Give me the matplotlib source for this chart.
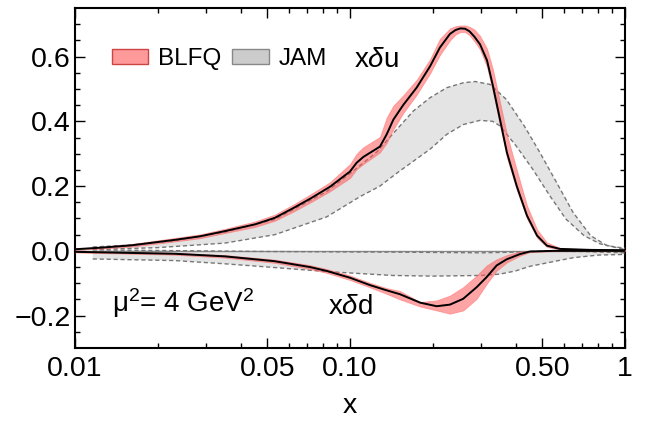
import matplotlib
matplotlib.use("Agg")
import matplotlib.pyplot as plt
from matplotlib.patches import Patch
from matplotlib.ticker import FixedLocator, NullFormatter

plt.rcParams['font.family'] = ['Liberation Sans', 'DejaVu Sans']
plt.rcParams['mathtext.fontset'] = 'custom'
plt.rcParams['mathtext.rm'] = 'Liberation Sans'
plt.rcParams['mathtext.it'] = 'Liberation Sans:italic'

# ---------------- data ----------------
# BLFQ x delta u (central + band)
u_x = [0.010, 0.0125, 0.016, 0.0231, 0.0285, 0.0351, 0.0452, 0.0533, 0.0622, 0.0723,
       0.0846, 0.100, 0.1057, 0.1118, 0.1285, 0.136, 0.1437, 0.156, 0.1747, 0.1955,
       0.2123, 0.231, 0.242, 0.252, 0.262, 0.272, 0.283, 0.297, 0.315, 0.331,
       0.351, 0.372, 0.404, 0.440, 0.479, 0.520, 0.580, 0.750, 1.0]
u_mid = [0.005, 0.010, 0.017, 0.034, 0.045, 0.061, 0.082, 0.102, 0.132, 0.163,
         0.198, 0.245, 0.272, 0.290, 0.322, 0.360, 0.405, 0.450, 0.504, 0.570,
         0.628, 0.670, 0.682, 0.687, 0.686, 0.678, 0.662, 0.638, 0.588, 0.509,
         0.406, 0.304, 0.200, 0.109, 0.047, 0.016, 0.006, 0.003, 0.002]
u_lo = [0.003, 0.007, 0.013, 0.029, 0.039, 0.055, 0.074, 0.093, 0.121, 0.151,
        0.184, 0.225, 0.252, 0.268, 0.304, 0.334, 0.375, 0.425, 0.482, 0.548,
        0.605, 0.650, 0.668, 0.676, 0.676, 0.666, 0.648, 0.622, 0.568, 0.490,
        0.388, 0.288, 0.188, 0.100, 0.040, 0.012, 0.004, 0.002, 0.001]
u_hi = [0.007, 0.013, 0.021, 0.040, 0.051, 0.068, 0.091, 0.112, 0.143, 0.176,
        0.212, 0.268, 0.300, 0.320, 0.352, 0.412, 0.448, 0.480, 0.528, 0.592,
        0.655, 0.687, 0.694, 0.696, 0.696, 0.692, 0.684, 0.664, 0.624, 0.560,
        0.460, 0.360, 0.250, 0.140, 0.066, 0.026, 0.009, 0.004, 0.003]

# BLFQ x delta d
d_x = [0.010, 0.0231, 0.0351, 0.0533, 0.0715, 0.0823, 0.100, 0.1184, 0.136, 0.152,
       0.180, 0.2066, 0.231, 0.258, 0.289, 0.314, 0.3415, 0.3715, 0.415, 0.451,
       0.550, 1.0]
d_mid = [-0.003, -0.009, -0.017, -0.032, -0.050, -0.062, -0.083, -0.106, -0.122, -0.134,
         -0.160, -0.171, -0.166, -0.148, -0.112, -0.081, -0.045, -0.026, -0.010, -0.002,
         0.0, 0.0]
d_lo = [-0.005, -0.012, -0.021, -0.037, -0.056, -0.068, -0.090, -0.113, -0.133, -0.150,
        -0.172, -0.184, -0.194, -0.184, -0.148, -0.102, -0.061, -0.036, -0.015, -0.004,
        -0.001, 0.0]
d_hi = [-0.001, -0.006, -0.013, -0.027, -0.044, -0.056, -0.076, -0.099, -0.115, -0.124,
        -0.158, -0.153, -0.138, -0.112, -0.076, -0.045, -0.026, -0.013, -0.002, 0.0,
        0.001, 0.0]

# JAM x delta u band edges
ju_up_x = [0.0116, 0.016, 0.0231, 0.0351, 0.0533, 0.0823, 0.1057, 0.125, 0.148, 0.170,
           0.1955, 0.225, 0.258, 0.285, 0.323, 0.370, 0.430, 0.490, 0.564, 0.647,
           0.750, 0.860, 1.0]
ju_up_y = [0.012, 0.018, 0.032, 0.058, 0.097, 0.183, 0.255, 0.305, 0.375, 0.432,
           0.473, 0.504, 0.519, 0.523, 0.514, 0.468, 0.386, 0.304, 0.211, 0.119,
           0.047, 0.016, 0.008]
ju_lo_x = [0.0116, 0.020, 0.0351, 0.0533, 0.0823, 0.109, 0.1285, 0.148, 0.1955, 0.225,
           0.258, 0.297, 0.330, 0.351, 0.402, 0.462, 0.533, 0.610, 0.710, 0.810, 1.0]
ju_lo_y = [0.004, 0.010, 0.024, 0.050, 0.105, 0.168, 0.200, 0.240, 0.314, 0.360,
           0.390, 0.403, 0.400, 0.386, 0.324, 0.252, 0.170, 0.098, 0.047, 0.022, 0.004]

# JAM x delta d band edges
jd_up_x = [0.0116, 0.05, 0.15, 0.30, 0.40, 0.50, 0.70, 1.0]
jd_up_y = [0.003, -0.002, -0.004, -0.006, -0.004, -0.001, -0.002, -0.006]
jd_lo_x = [0.0116, 0.0231, 0.0351, 0.047, 0.0823, 0.143, 0.20, 0.30, 0.35, 0.40,
           0.45, 0.55, 0.65, 0.80, 1.0]
jd_lo_y = [-0.025, -0.030, -0.040, -0.048, -0.064, -0.076, -0.078, -0.076, -0.072, -0.062,
           -0.048, -0.033, -0.021, -0.013, -0.011]

x_ticks = [0.01, 0.05, 0.10, 0.50, 1.0]
x_tick_labels = ['0.01', '0.05', '0.10', '0.50', '1']
y_ticks = [-0.2, 0.0, 0.2, 0.4, 0.6]
y_tick_labels = ['\u22120.2', '0.0', '0.2', '0.4', '0.6']

# ---------------- plot ----------------
fig = plt.figure(figsize=(6.47, 4.22), dpi=100)
ax = fig.add_axes([75/647, 1-348/422, 550/647, 340/422])
ax.set_xscale('log')
ax.set_xlim(0.01, 1.0)
ax.set_ylim(-0.3, 0.75)

jam_fill = '#e4e4e4'
jam_edge = '#777777'
pink = '#ff5a5a'

# JAM bands
ax.fill(ju_up_x + ju_lo_x[::-1], ju_up_y + ju_lo_y[::-1], color=jam_fill, lw=0, zorder=1)
ax.fill(jd_up_x + jd_lo_x[::-1], jd_up_y + jd_lo_y[::-1], color=jam_fill, lw=0, zorder=1)

# zero line
ax.axhline(0, color='#8a8a8a', lw=1.0, zorder=2)

for xs, ys in [(ju_up_x, ju_up_y), (ju_lo_x, ju_lo_y), (jd_up_x, jd_up_y), (jd_lo_x, jd_lo_y)]:
    ax.plot(xs, ys, color=jam_edge, lw=1.0, ls=(0, (3, 2)), zorder=3)

# BLFQ bands
ax.fill_between(u_x, u_lo, u_hi, facecolor=pink, alpha=0.55, edgecolor='#ff6a6a', lw=0.6, zorder=4)
ax.fill_between(d_x, d_lo, d_hi, facecolor=pink, alpha=0.55, edgecolor='#ff6a6a', lw=0.6, zorder=4)
ax.plot(u_x, u_mid, color='black', lw=1.4, zorder=5, solid_joinstyle='round')
ax.plot(d_x, d_mid, color='black', lw=1.4, zorder=5, solid_joinstyle='round')

# ticks
ax.xaxis.set_major_locator(FixedLocator(x_ticks))
ax.set_xticklabels(x_tick_labels)
minor_x = [0.02, 0.03, 0.04, 0.06, 0.07, 0.08, 0.09, 0.2, 0.3, 0.4, 0.6, 0.7, 0.8, 0.9]
ax.xaxis.set_minor_locator(FixedLocator(minor_x))
ax.xaxis.set_minor_formatter(NullFormatter())
ax.yaxis.set_major_locator(FixedLocator(y_ticks))
ax.set_yticklabels(y_tick_labels)
ax.yaxis.set_minor_locator(FixedLocator([-0.25, -0.15, -0.1, -0.05, 0.05, 0.1, 0.15, 0.25,
                                         0.3, 0.35, 0.45, 0.5, 0.55, 0.65, 0.7]))
ax.tick_params(which='both', direction='in', top=True, right=True, width=1.0, labelsize=20.5, pad=3)
ax.tick_params(which='major', length=7)
ax.tick_params(which='minor', length=3.5)
ax.tick_params(axis='x', pad=6)
for s in ax.spines.values():
    s.set_linewidth(1.5)

ax.set_xlabel('x', fontsize=20.5, labelpad=8)

# annotations
ax.text(0.125, 0.588, r'x$\delta$u', fontsize=20, ha='center', va='center')
ax.text(0.1, -0.172, r'x$\delta$d', fontsize=20, ha='center', va='center')
ax.text(0.0136, -0.16, r'$\mathregular{\mu^2}$= 4 GeV$\mathregular{^2}$', fontsize=20,
        ha='left', va='center')

handles = [Patch(facecolor='#ff9a9a', edgecolor='#cc4444', lw=1.0),
           Patch(facecolor='#cccccc', edgecolor='#888888', lw=1.0)]
ax.legend(handles, ['BLFQ', 'JAM'], loc='center left', bbox_to_anchor=(0.067, 0.85),
          ncol=2, frameon=False, fontsize=17.5, handlelength=1.5, handleheight=0.55,
          handletextpad=0.4, columnspacing=0.45, borderpad=0, borderaxespad=0)

fig.savefig('out.png', dpi=100)
